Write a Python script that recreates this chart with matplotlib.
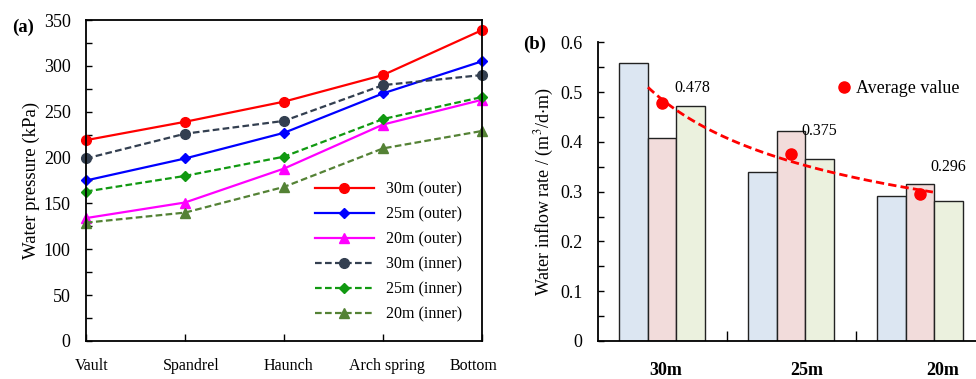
import numpy as np
import matplotlib
matplotlib.use("Agg")
import matplotlib.pyplot as plt
from matplotlib.ticker import MultipleLocator, FixedLocator
from matplotlib.transforms import ScaledTranslation

plt.rcParams['font.family'] = ['Liberation Serif', 'DejaVu Serif']
plt.rcParams['mathtext.fontset'] = 'stix'

# ---------------- data (a) ----------------
positions = ["Vault", "Spandrel", "Haunch", "Arch spring", "Bottom"]
outer_30 = [219, 239, 261, 290, 339]
outer_25 = [175, 199, 227, 270, 305]
outer_20 = [134, 151, 188, 236, 263]
inner_30 = [199, 226, 240, 279, 290]
inner_25 = [163, 180, 201, 242, 266]
inner_20 = [129, 140, 168, 210, 229]
series_labels = ["30m (outer)", "25m (outer)", "20m (outer)",
                 "30m (inner)", "25m (inner)", "20m (inner)"]

# ---------------- data (b) ----------------
depths = ["30m", "25m", "20m"]
rate_s1 = [0.558, 0.339, 0.292]
rate_s2 = [0.408, 0.422, 0.315]
rate_s3 = [0.472, 0.366, 0.282]
avg_values = [0.478, 0.375, 0.296]
avg_labels = ["0.478", "0.375", "0.296"]

fig = plt.figure(figsize=(9.76, 3.79), dpi=100)

# ================= panel (a) =================
ax1 = fig.add_axes([0.0881, 0.1003, 0.4058, 0.8469])
x = np.arange(len(positions))
styles = [
    (outer_30, '#FF0000', 'o', '-', 7),
    (outer_25, '#0000FF', 'D', '-', 5.5),
    (outer_20, '#FF00FF', '^', '-', 7),
    (inner_30, '#333F50', 'o', '--', 7),
    (inner_25, '#119911', 'D', '--', 5.5),
    (inner_20, '#548235', '^', '--', 7),
]
for (vals, c, m, ls, ms), lab in zip(styles, series_labels):
    ax1.plot(x, vals, color=c, marker=m, linestyle=ls, markersize=ms,
             linewidth=1.6, label=lab, clip_on=False,
             dashes=(3, 1.5) if ls == '--' else (None, None))
ax1.set_xlim(0, 4)
ax1.set_ylim(0, 350)
ax1.yaxis.set_major_locator(MultipleLocator(50))
ax1.yaxis.set_minor_locator(MultipleLocator(25))
ax1.set_xticks(x)
ax1.set_xticklabels(positions, fontsize=11.5)
ax1.tick_params(axis='y', which='both', direction='in', labelsize=13, length=4, width=1, pad=11)
ax1.tick_params(axis='x', direction='in', length=5, width=1, pad=12)
ax1.tick_params(axis='both', which='both', right=False, top=False)
for lbl, dx in zip(ax1.get_xticklabels(), [6, 6, 4, 4, -9]):
    lbl.set_transform(lbl.get_transform() + ScaledTranslation(dx / 100, 0, fig.dpi_scale_trans))
for s in ax1.spines.values():
    s.set_linewidth(1.3)
ax1.set_ylabel("Water pressure (kPa)", fontsize=13.5, labelpad=3)
ax1.legend(loc='lower right', frameon=False, fontsize=11.5, handlelength=3.7,
           labelspacing=0.56, bbox_to_anchor=(0.975, 0.028), borderaxespad=0.2)
fig.text(0.012, 0.915, "(a)", fontsize=13.5, fontweight='bold')

# ================= panel (b) =================
ax2 = fig.add_axes([0.6124, 0.1003, 0.3963, 0.7881])
xb = np.arange(len(depths))
w = 0.222
bar_colors = ['#DCE6F2', '#F2DCDB', '#EBF1DE']
for i, (vals, c) in enumerate(zip([rate_s1, rate_s2, rate_s3], bar_colors)):
    ax2.bar(xb + (i - 1) * w, vals, width=w, color=c, edgecolor='#222222', linewidth=1.0, zorder=2)

# power-law trendline fitted to the averages (Excel style, x = 1,2,3)
xe = np.arange(1, len(avg_values) + 1)
b, lna = np.polyfit(np.log(xe), np.log(avg_values), 1)
xf = np.linspace(0.89, 3.1, 100)
ax2.plot(xf - 1, np.exp(lna) * xf ** b, color='#FF0000', linestyle='--', linewidth=2,
         dashes=(3, 1.5), zorder=3)
ax2.plot(xb, avg_values, 'o', color='#FF0000', markersize=8, zorder=4, label='Average value')
for xi, v, t, off in zip(xb, avg_values, avg_labels, [(21.6, 11), (20, 17), (20, 19)]):
    ax2.annotate(t, (xi, v), xytext=off, textcoords='offset points', fontsize=11.5,
                 ha='center', va='center', zorder=5)

ax2.set_xlim(-0.5, 2.5)
ax2.set_ylim(0, 0.6)
ax2.yaxis.set_major_locator(MultipleLocator(0.1))
ax2.yaxis.set_minor_locator(MultipleLocator(0.05))
ax2.yaxis.set_major_formatter(plt.FuncFormatter(lambda v, p: "0" if v == 0 else f"{v:.1f}"))
ax2.set_xticks(xb)
ax2.set_xticklabels(depths, fontsize=13, fontweight='bold')
ax2.xaxis.set_minor_locator(FixedLocator([0.5, 1.5]))
ax2.tick_params(axis='x', which='major', length=0, pad=15)
ax2.tick_params(axis='x', which='minor', direction='in', length=7, width=1)
ax2.tick_params(axis='y', which='both', direction='in', labelsize=13, length=4, width=1, pad=11)
for lbl, dx in zip(ax2.get_xticklabels(), [4, 16, 23]):
    lbl.set_transform(lbl.get_transform() + ScaledTranslation(dx / 100, 0, fig.dpi_scale_trans))
ax2.spines['top'].set_visible(False)
ax2.spines['right'].set_visible(False)
for s in ['left', 'bottom']:
    ax2.spines[s].set_linewidth(1.3)
ax2.set_ylabel("Water inflow rate / (m$^3$/d$\\cdot$m)", fontsize=13, labelpad=3)
ax2.legend(loc='center right', frameon=False, fontsize=13, handlelength=0.8,
           handletextpad=0.3, bbox_to_anchor=(0.955, 0.844), borderaxespad=0)
fig.text(0.536, 0.87, "(b)", fontsize=13.5, fontweight='bold')

fig.savefig("out.png", dpi=100)
